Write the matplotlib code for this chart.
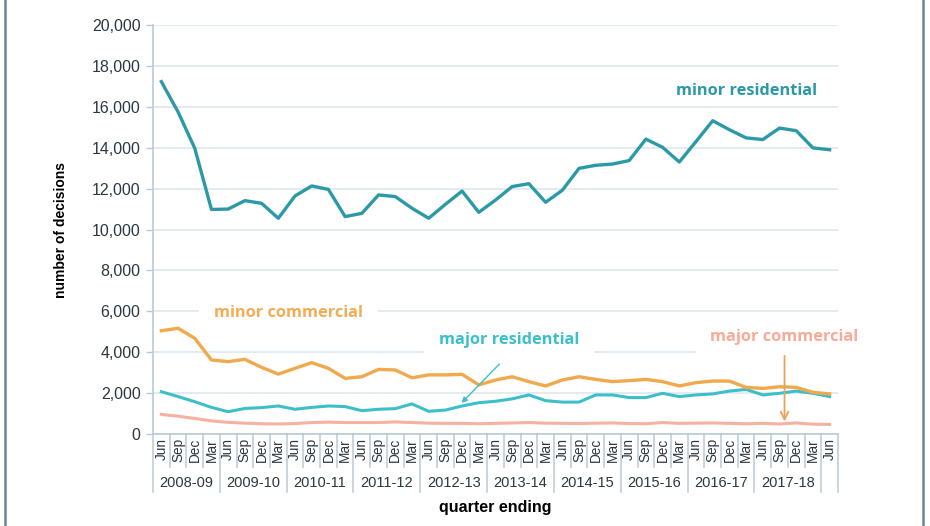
import numpy as np
import matplotlib.pyplot as plt

plt.rcParams['font.family'] = ['Liberation Sans', 'DejaVu Sans']

# Quarterly data, Jun 2008 .. Jun 2018

months = ["Jun", "Sep", "Dec", "Mar"] * 10 + ["Jun"]
years = ["2008-09", "2009-10", "2010-11", "2011-12", "2012-13",
         "2013-14", "2014-15", "2015-16", "2016-17", "2017-18"]

minorResidential = [17230, 15750, 13970, 10980, 11000, 11410, 11280, 10550, 11640, 12130,
                    11960, 10630, 10790, 11690, 11610, 11040, 10550, 11230, 11880, 10840,
                    11440, 12100, 12240, 11330, 11920, 12990, 13140, 13200, 13370, 14420,
                    14020, 13300, 14300, 15320, 14880, 14480, 14400, 14960, 14830, 13990, 13900]
minorCommercial = [5050, 5170, 4680, 3620, 3540, 3650, 3260, 2930, 3210, 3490,
                   3210, 2720, 2800, 3160, 3130, 2750, 2890, 2890, 2920, 2400,
                   2640, 2800, 2560, 2350, 2640, 2800, 2670, 2560, 2610, 2670,
                   2560, 2350, 2510, 2590, 2590, 2280, 2230, 2310, 2280, 2040, 1960]
majorResidential = [2070, 1830, 1580, 1300, 1090, 1250, 1290, 1370, 1210, 1300,
                    1370, 1340, 1140, 1210, 1240, 1470, 1110, 1170, 1370, 1530,
                    1600, 1720, 1910, 1630, 1560, 1560, 1910, 1910, 1780, 1780,
                    1990, 1830, 1910, 1960, 2100, 2180, 1910, 1990, 2100, 1990, 1830]
majorCommercial = [960, 870, 760, 640, 570, 530, 500, 490, 510, 560,
                   580, 560, 560, 560, 590, 560, 530, 520, 520, 500,
                   520, 540, 560, 530, 520, 510, 530, 540, 510, 500,
                   560, 520, 530, 540, 520, 500, 520, 490, 540, 480, 470]

x = np.arange(len(months))

fig = plt.figure(figsize=(9.3, 5.26), dpi=100)
ax = fig.add_axes([153 / 930, 92 / 526, 685 / 930, 409 / 526])

axisColor = "#b9cad6"
textColor = "#2c3740"
ax.set_axisbelow(True)
ax.yaxis.grid(True, color="#e2e9ef", linewidth=1.3)
ax.set_ylim(0, 20000)
ax.set_xlim(-0.5, len(months) - 0.5)
ax.set_yticks(np.arange(0, 20001, 2000))
ax.set_yticklabels([f"{v:,}" for v in range(0, 20001, 2000)])
ax.tick_params(axis="y", length=5, width=1, color=axisColor, pad=4,
               labelsize=11.5, labelcolor=textColor)
ax.set_xticks(x)
ax.set_xticklabels(months, rotation=90, va="top", ha="center")
ax.tick_params(axis="x", length=0, pad=3, labelsize=9.8, labelcolor=textColor)
for side in ["top", "right"]:
    ax.spines[side].set_visible(False)
for side in ["left", "bottom"]:
    ax.spines[side].set_color(axisColor)
    ax.spines[side].set_linewidth(1.2)

ax.set_ylabel("number of decisions", weight="bold", fontsize=10, labelpad=17)
ax.set_xlabel("quarter ending", weight="bold", fontsize=11.5, labelpad=27)

# Cell separators under the axis

trans = ax.get_xaxis_transform()
for i in range(len(months) + 1):
    edge = i - 0.5
    depth = -0.142 if (i % 4 == 0 or i == len(months)) else -0.081
    ax.plot([edge, edge], [0, depth], color=axisColor, linewidth=1.1,
            transform=trans, clip_on=False)
for g, year in enumerate(years):
    ax.text(4 * g + 1.5, -0.12, year, transform=trans, ha="center", va="center",
            fontsize=10.5, color=textColor)

# Series

ax.plot(x, majorCommercial, color="#f7b1a1", linewidth=2.2, zorder=3)
ax.plot(x, majorResidential, color="#3dbfca", linewidth=2.2, zorder=4)
ax.plot(x, minorCommercial, color="#f0a94c", linewidth=2.4, zorder=4)
ax.plot(x, minorResidential, color="#2b9aa6", linewidth=2.4, zorder=5)

# Series labels

labelFont = dict(fontsize=11.8, weight="bold", family=["Open Sans", "DejaVu Sans"],
                 ha="center", va="center")
whiteBox = dict(boxstyle="square,pad=0.9", facecolor="white", edgecolor="none")
ax.text(35.0, 16770, "minor residential", color="#2b9aa6", **labelFont)
ax.text(7.6, 5900, "minor commercial", color="#f2ad55", bbox=whiteBox, zorder=2, **labelFont)
ax.text(20.8, 4600, "major residential", color="#3dbfca", bbox=whiteBox, zorder=2, **labelFont)
ax.text(37.3, 4740, "major commercial", color="#f7ab98", bbox=whiteBox, zorder=2,
        clip_on=False, **labelFont)

ax.annotate("", xy=(17.85, 1420), xytext=(20.35, 3520),
            arrowprops=dict(arrowstyle="-|>", color="#3dbfca", linewidth=1,
                            mutation_scale=8), zorder=6)
ax.annotate("", xy=(37.3, 480), xytext=(37.3, 3960),
            arrowprops=dict(arrowstyle="->", color="#eaa258", linewidth=1.3,
                            mutation_scale=14), zorder=6)

# Page frame

for fx in [5 / 930, 923 / 930]:
    fig.add_artist(plt.Line2D([fx, fx], [0, 1], color="#6f8594", linewidth=1.8))

plt.savefig("out.png", dpi=100)
